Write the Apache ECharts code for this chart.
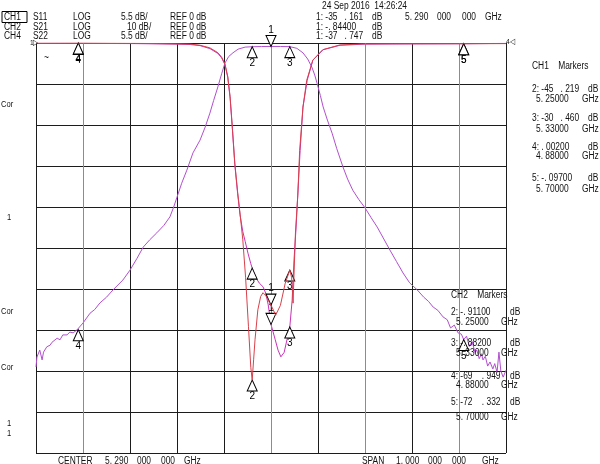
<!DOCTYPE html>
<html>
<head>
<meta charset="utf-8">
<script src="https://cdn.jsdelivr.net/npm/echarts@6/dist/echarts.min.js"></script>
<style>
  html, body { margin: 0; padding: 0; background: #fff; }
  #chart { width: 600px; height: 464px; }
</style>
</head>
<body>
<div id="chart"></div>
<script>
// frequencies in GHz, levels in dB
const s11Freq = [4.79, 4.88, 4.95, 5.00, 5.05, 5.09, 5.118, 5.139, 5.160, 5.177, 5.185, 5.192, 5.198, 5.203, 5.208, 5.213, 5.219, 5.224, 5.230, 5.236, 5.242, 5.247, 5.25, 5.253, 5.256, 5.262, 5.268, 5.273, 5.279, 5.285, 5.29, 5.30, 5.31, 5.32, 5.33, 5.334, 5.337, 5.339, 5.342, 5.347, 5.351, 5.358, 5.366, 5.379, 5.40, 5.436, 5.485, 5.55, 5.62, 5.70, 5.79];
const s11Db = [-0.02, -0.002, -0.03, -0.05, -0.08, -0.12, -0.15, -0.3, -0.65, -1.3, -1.9, -2.8, -4.5, -7.2, -11.5, -16.1, -20.0, -22.8, -26.4, -31.5, -38.0, -43.5, -45.219, -42.5, -39.8, -35.8, -34.0, -33.5, -33.9, -34.6, -35.161, -36.5, -35.2, -32.3, -30.46, -31.5, -34.9, -31.0, -25.5, -20.4, -14.4, -8.6, -5.0, -2.3, -0.9, -0.27, -0.12, -0.1, -0.1, -0.097, -0.08];

const s21Freq = [4.79, 4.792, 4.798, 4.803, 4.806, 4.810, 4.813, 4.820, 4.824, 4.826,
  4.835, 4.841, 4.847, 4.856, 4.862, 4.869, 4.877, 4.88, 4.890, 4.905,
  4.915, 4.926, 4.940, 4.954, 4.975, 4.990, 5.005, 5.018, 5.032, 5.047,
  5.062, 5.075, 5.083, 5.090, 5.100, 5.111, 5.124, 5.139, 5.150, 5.160,
  5.168, 5.177, 5.185, 5.192, 5.200, 5.209, 5.220, 5.235, 5.25, 5.27,
  5.29, 5.31, 5.33, 5.345, 5.358, 5.368, 5.377, 5.383, 5.388, 5.395,
  5.401, 5.41, 5.42, 5.43, 5.443, 5.453, 5.464, 5.477, 5.490, 5.503,
  5.516, 5.53, 5.543, 5.557, 5.571, 5.585, 5.601, 5.615, 5.625, 5.635,
  5.645, 5.656, 5.665, 5.672, 5.68, 5.688, 5.695, 5.70, 5.706, 5.712,
  5.718, 5.724, 5.728, 5.733, 5.738, 5.741, 5.746, 5.751, 5.756, 5.762,
  5.766, 5.771, 5.775, 5.779, 5.784, 5.79];
const s21Db = [-79.0, -76.6, -74.9, -77.3, -75.4, -75.6, -74.1, -73.7, -73.0, -73.2,
  -72.0, -72.4, -71.2, -71.2, -70.5, -70.7, -70.0, -69.949, -68.3, -65.9,
  -65.0, -63.4, -62.0, -60.2, -57.8, -55.4, -52.5, -49.8, -48.0, -46.3,
  -44.5, -42.4, -40.0, -37.6, -34.2, -31.0, -26.8, -23.7, -20.5, -17.1,
  -14.0, -10.7, -7.5, -4.9, -3.3, -2.4, -1.5, -1.0, -0.911, -0.86,
  -0.844, -0.85, -0.882, -1.3, -2.4, -3.9, -5.9, -7.8, -9.8, -12.8,
  -15.6, -18.8, -22.0, -25.8, -30.2, -33.2, -35.9, -38.2, -40.2, -42.6,
  -44.9, -47.8, -50.5, -53.3, -56.1, -58.5, -60.2, -62.0, -63.0, -64.4,
  -65.2, -66.8, -67.5, -69.5, -68.8, -70.7, -71.0, -72.332, -71.5, -74.0,
  -72.8, -75.5, -74.9, -77.0, -75.8, -77.3, -76.4, -78.8, -77.8, -79.5,
  -78.2, -80.3, -75.4, -80.0, -81.5, -79.8];

const s22Freq = [4.79, 4.88, 5.00, 5.09, 5.118, 5.139, 5.160, 5.177, 5.185, 5.192, 5.198, 5.203, 5.208, 5.213, 5.219, 5.224, 5.230, 5.235, 5.241, 5.247, 5.25, 5.258, 5.265, 5.273, 5.279, 5.284, 5.29, 5.299, 5.305, 5.311, 5.318, 5.324, 5.33, 5.335, 5.339, 5.343, 5.347, 5.352, 5.358, 5.367, 5.379, 5.401, 5.437, 5.49, 5.6, 5.70, 5.79];
const s22Db = [-0.05, -0.05, -0.08, -0.15, -0.2, -0.35, -0.75, -1.4, -2.0, -2.9, -4.6, -7.4, -11.7, -16.3, -20.2, -23.0, -25.3, -26.6, -28.2, -29.6, -30.2, -31.5, -32.2, -32.7, -33.6, -35.1, -37.747, -39.8, -41.2, -42.1, -41.5, -39.8, -38.1, -34.5, -29.1, -25.1, -20.4, -14.4, -8.6, -5.0, -2.3, -0.9, -0.3, -0.15, -0.12, -0.1, -0.05];

// markers 1..5
const markerFreq = [5.29, 5.25, 5.33, 4.88, 5.70];
const s11Marker = [-35.161, -45.219, -30.46, -0.002, -0.097];
const s21Marker = [-0.844, -0.911, -0.882, -69.949, -72.332];
const s22Marker = [-37.747, -30.2, -38.1, -0.05, -0.1];

const FONT = '"Liberation Sans", Arial, sans-serif';
const UP = 'path://M5,0L10,11L0,11Z';
const DOWN = 'path://M0,0L10,0L5,11Z';
const K = '#1c1c1c', G = '#8c8c8c';
// graticule columns that show lighter on the analyser screen
const lightCols = [4.89, 5.29, 5.49, 5.69];

function pairs(f, v) { return f.map((x, i) => [x, v[i]]); }

function markers(vals) {
  return {
    silent: true,
    animation: false,
    itemStyle: { color: '#fff', borderColor: '#000', borderWidth: 1 },
    label: { show: true, formatter: '{b}', color: '#000', fontSize: 10, fontFamily: FONT },
    data: markerFreq.map((f, i) => {
      const first = i === 0;
      return {
        name: String(i + 1),
        coord: [f, vals[i]],
        symbol: first ? DOWN : UP,
        symbolSize: [10, 11],
        symbolOffset: [0, first ? '-50%' : '50%'],
        label: { position: first ? 'top' : 'bottom', distance: 0 }
      };
    })
  };
}

// screen text is a narrow bitmap font, so squeeze it horizontally
function t(x, y, s, size) {
  return {
    type: 'text', x: x, y: y, scaleX: 0.84, silent: true, z: 100,
    style: { text: s, fontSize: size || 10, fontFamily: FONT, fill: '#111', verticalAlign: 'middle' }
  };
}

const texts = [
  // header
  t(4, 17, 'CH1'), t(33, 17, 'S11'), t(73, 17, 'LOG'), t(121, 17, '5.5 dB/'), t(170, 17, 'REF 0 dB'),
  t(4, 27, 'CH2'), t(33, 27, 'S21'), t(73, 27, 'LOG'), t(127, 27, '10 dB/'), t(170, 27, 'REF 0 dB'),
  t(4, 36, 'CH4'), t(33, 36, 'S22'), t(73, 36, 'LOG'), t(121, 36, '5.5 dB/'), t(170, 36, 'REF 0 dB'),
  t(322, 6, '24 Sep 2016  14:26:24'),
  t(316, 17, '1: -35   . 161'), t(372, 17, 'dB'),
  t(405, 17, '5. 290'), t(437, 17, '000'), t(462, 17, '000'), t(485, 17, 'GHz'),
  t(316, 27, '1: -. 84400'), t(372, 27, 'dB'),
  t(316, 36, '1: -37   . 747'), t(372, 36, 'dB'),
  // CH1 marker panel
  t(532, 66, 'CH1    Markers'),
  t(532, 89, '2: -45   . 219'), t(588, 89, 'dB'), t(536, 99, '5. 25000'), t(582, 99, 'GHz'),
  t(532, 118, '3: -30   . 460'), t(588, 118, 'dB'), t(536, 129, '5. 33000'), t(582, 129, 'GHz'),
  t(532, 147, '4: . 00200'), t(588, 147, 'dB'), t(536, 156, '4. 88000'), t(582, 156, 'GHz'),
  t(532, 178, '5: -. 09700'), t(588, 178, 'dB'), t(536, 189, '5. 70000'), t(582, 189, 'GHz'),
  // CH2 marker panel
  t(451, 295, 'CH2    Markers'),
  t(451, 312, '2: -. 91100'), t(510, 312, 'dB'), t(456, 322, '5. 25000'), t(501, 322, 'GHz'),
  t(451, 343, '3: -. 88200'), t(510, 343, 'dB'), t(456, 353, '5. 33000'), t(501, 353, 'GHz'),
  t(451, 376, '4: -69    . 949'), t(510, 376, 'dB'), t(456, 385, '4. 88000'), t(501, 385, 'GHz'),
  t(451, 402, '5: -72    . 332'), t(510, 402, 'dB'), t(456, 417, '5. 70000'), t(501, 417, 'GHz'),
  // left side
  t(1, 105, 'Cor', 9), t(7, 218, '1', 9), t(1, 312, 'Cor', 9), t(1, 368, 'Cor', 9),
  t(7, 424, '1', 9), t(7, 434, '1', 9),
  t(44, 58, '~', 10),
  t(30, 43, '1', 8), t(33, 43, '\u25B7', 8), t(506, 42, '4\u25C1', 8),
  // bottom
  t(58, 461, 'CENTER'), t(105, 461, '5. 290'), t(137, 461, '000'), t(161, 461, '000'), t(184, 461, 'GHz'),
  t(362, 461, 'SPAN'), t(396, 461, '1. 000'), t(428, 461, '000'), t(452, 461, '000'), t(482, 461, 'GHz')
];

const chart = echarts.init(document.getElementById('chart'), null, { renderer: 'canvas' });

chart.setOption({
  animation: false,
  backgroundColor: '#fff',
  grid: { left: 36, top: 43, width: 470, height: 410, show: false },
  xAxis: [
    {
      type: 'value', min: 0, max: 10, interval: 1,
      axisLine: { show: false }, axisTick: { show: false }, axisLabel: { show: false },
      splitLine: { show: true, showMinLine: true, showMaxLine: true, lineStyle: { width: 1, color: K } }
    },
    { type: 'value', min: 4.79, max: 5.79, show: false, splitLine: { show: false } }
  ],
  yAxis: [
    {
      type: 'value', min: 0, max: 10, interval: 1,
      axisLine: { show: false }, axisTick: { show: false }, axisLabel: { show: false },
      splitLine: { show: true, showMinLine: true, showMaxLine: true, lineStyle: { width: 1, color: K } }
    },
    { type: 'value', min: -55, max: 0, show: false, splitLine: { show: false } },
    { type: 'value', min: -100, max: 0, show: false, splitLine: { show: false } }
  ],
  series: [
    {
      name: 'grid', type: 'line', xAxisIndex: 1, yAxisIndex: 2,
      showSymbol: false, silent: true, z: 2, data: [],
      markLine: {
        silent: true, animation: false, symbol: 'none', label: { show: false },
        lineStyle: { color: G, type: 'solid', width: 1 },
        data: lightCols.map(f => ({ xAxis: f }))
      }
    },
    {
      name: 'S21', type: 'line', xAxisIndex: 1, yAxisIndex: 2,
      showSymbol: false, silent: true, z: 3,
      lineStyle: { color: '#b24fcf', width: 1 },
      data: pairs(s21Freq, s21Db),
      markPoint: markers(s21Marker)
    },
    {
      name: 'S22', type: 'line', xAxisIndex: 1, yAxisIndex: 1,
      showSymbol: false, silent: true, z: 4,
      lineStyle: { color: '#c832b8', width: 1 },
      data: pairs(s22Freq, s22Db),
      markPoint: markers(s22Marker)
    },
    {
      name: 'S11', type: 'line', xAxisIndex: 1, yAxisIndex: 1,
      showSymbol: false, silent: true, z: 5,
      lineStyle: { color: '#d8404a', width: 1 },
      data: pairs(s11Freq, s11Db),
      markPoint: markers(s11Marker)
    }
  ],
  graphic: [
    { type: 'rect', silent: true, shape: { x: 2, y: 11.5, width: 25, height: 11 },
      style: { fill: 'none', stroke: '#000', lineWidth: 1 } }
  ].concat(texts)
});

window.addEventListener('resize', () => chart.resize());
</script>
</body>
</html>
